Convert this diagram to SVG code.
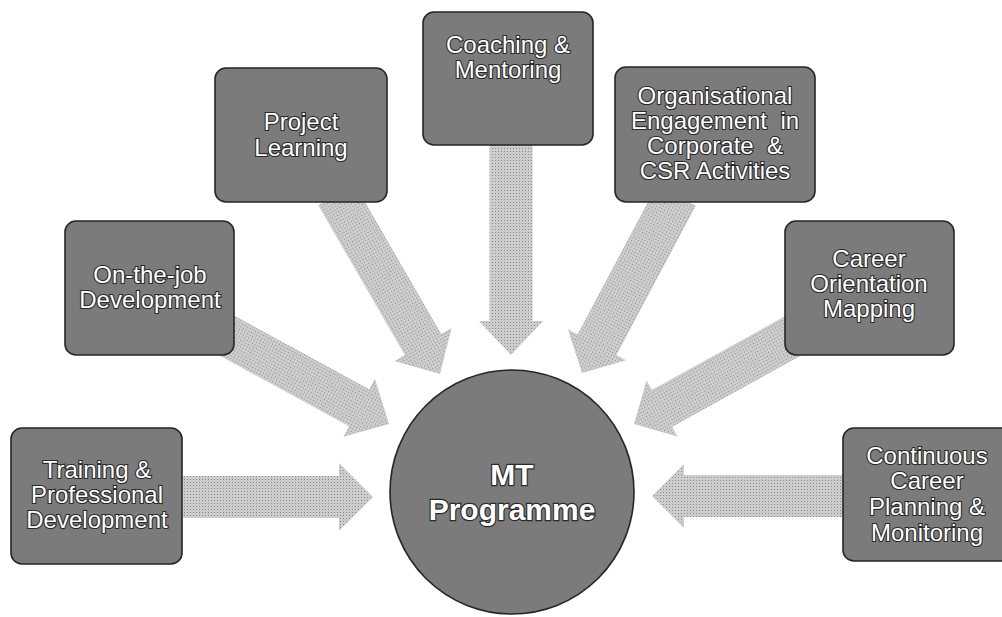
<svg xmlns="http://www.w3.org/2000/svg" width="1002" height="617" viewBox="0 0 1002 617">
  <style>
    .box { fill: #7b7b7b; stroke: #262626; stroke-width: 1.6; }
    .lbl { font-family: "Liberation Sans", Arial, sans-serif; font-size: 24px; fill: #ffffff; stroke: #2a2a2a; stroke-width: 2.2; paint-order: stroke fill; text-anchor: middle; }
    .big { font-family: "Liberation Sans", Arial, sans-serif; font-size: 30px; font-weight: bold; fill: #ffffff; stroke: #2a2a2a; stroke-width: 2.4; paint-order: stroke fill; text-anchor: middle; }
    .arrow { fill: url(#dots); }
  </style>
  <defs>
    <pattern id="dots" width="3" height="3" patternUnits="userSpaceOnUse">
      <rect width="3" height="3" fill="#cdcdcd"/>
      <rect width="1" height="1" fill="#8a8a8a"/>
    </pattern>
  </defs>
  <rect width="1002" height="617" fill="#ffffff"/>

  <g id="connectors">
    <path class="arrow" transform="translate(373,497)" d="M -190,-21 L -34,-21 L -34,-34 L 0,0 L -34,34 L -34,21 L -190,21 Z"/>
    <path class="arrow" transform="translate(389,424) rotate(28.6)" d="M -196,-21 L -34,-21 L -34,-33 L 0,0 L -34,33 L -34,21 L -196,21 Z"/>
    <path class="arrow" transform="translate(440,374) rotate(60)" d="M -207,-21 L -34,-21 L -34,-33 L 0,0 L -34,33 L -34,21 L -207,21 Z"/>
    <path class="arrow" transform="translate(511,355) rotate(90)" d="M -215,-21.5 L -34,-21.5 L -34,-32 L 0,0 L -34,32 L -34,21.5 L -215,21.5 Z"/>
    <path class="arrow" transform="translate(582,373) rotate(118)" d="M -201,-22 L -32,-22 L -32,-33 L 0,0 L -32,33 L -32,22 L -201,22 Z"/>
    <path class="arrow" transform="translate(634,424) rotate(151)" d="M -191,-21 L -32,-21 L -32,-32 L 0,0 L -32,32 L -32,21 L -191,21 Z"/>
    <path class="arrow" transform="translate(652,496) rotate(180)" d="M -198,-21 L -32,-21 L -32,-32 L 0,0 L -32,32 L -32,21 L -198,21 Z"/>
  </g>

  <g id="node-training">
    <rect class="box" x="11" y="428" width="171" height="136" rx="11"/>
    <text class="lbl" x="97" y="478">Training &amp;</text>
    <text class="lbl" x="97" y="503">Professional</text>
    <text class="lbl" x="97" y="528">Development</text>
  </g>
  <g id="node-onthejob">
    <rect class="box" x="65" y="221" width="169" height="134" rx="11"/>
    <text class="lbl" x="150" y="283">On-the-job</text>
    <text class="lbl" x="150" y="308">Development</text>
  </g>
  <g id="node-project">
    <rect class="box" x="215" y="68" width="172" height="134" rx="11"/>
    <text class="lbl" x="301" y="130">Project</text>
    <text class="lbl" x="301" y="156">Learning</text>
  </g>
  <g id="node-coaching">
    <rect class="box" x="423" y="12" width="170" height="133" rx="11"/>
    <text class="lbl" x="508" y="53">Coaching &amp;</text>
    <text class="lbl" x="508" y="78">Mentoring</text>
  </g>
  <g id="node-organisational">
    <rect class="box" x="615" y="67" width="200" height="135" rx="11"/>
    <text class="lbl" x="715" y="104">Organisational</text>
    <text class="lbl" x="715" y="129" xml:space="preserve">Engagement  in</text>
    <text class="lbl" x="715" y="154" xml:space="preserve">Corporate  &amp;</text>
    <text class="lbl" x="715" y="179">CSR Activities</text>
  </g>
  <g id="node-career">
    <rect class="box" x="785" y="221" width="169" height="134" rx="11"/>
    <text class="lbl" x="869" y="267">Career</text>
    <text class="lbl" x="869" y="292">Orientation</text>
    <text class="lbl" x="869" y="317">Mapping</text>
  </g>
  <g id="node-continuous">
    <rect class="box" x="843" y="428" width="170" height="133" rx="11"/>
    <text class="lbl" x="927" y="464">Continuous</text>
    <text class="lbl" x="927" y="489">Career</text>
    <text class="lbl" x="927" y="515">Planning &amp;</text>
    <text class="lbl" x="927" y="541">Monitoring</text>
  </g>
  <g id="node-mt">
    <circle cx="512" cy="492" r="122" fill="#7b7b7b" stroke="#262626" stroke-width="1.6"/>
    <text class="big" x="512" y="485">MT</text>
    <text class="big" x="512" y="520">Programme</text>
  </g>
</svg>
